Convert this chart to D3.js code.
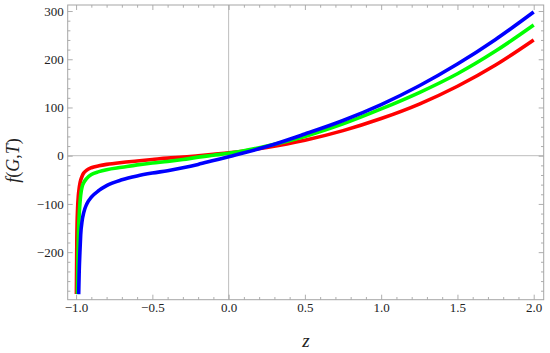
<!DOCTYPE html>
<html>
<head>
<meta charset="utf-8">
<script src="https://cdn.jsdelivr.net/npm/d3@7"></script>
<style>
  html, body { margin: 0; padding: 0; background: #fff; }
  svg { display: block; }
  svg text { font-family: "Liberation Serif", "Times New Roman", serif; }
</style>
</head>
<body>
<svg id="chart" width="550" height="353"></svg>
<script>
// ---- data ----
const redZ   = [-0.998, -0.995, -0.99, -0.985, -0.98, -0.975, -0.97, -0.96, -0.95, -0.93, -0.9, -0.85, -0.8, -0.7, -0.6, -0.5, -0.4, -0.3, -0.2, -0.1, 0, 0.25, 0.5, 0.75, 1, 1.25, 1.5, 1.75, 2];
const redF   = [-287, -170, -108, -82, -68, -58, -51, -42, -36, -30, -25, -21, -18, -14, -11, -8, -5, -3, 0, 3, 6, 17, 32, 52, 77, 107, 144, 188, 240];
const greenZ = [-0.991, -0.988, -0.985, -0.98, -0.975, -0.97, -0.96, -0.95, -0.93, -0.9, -0.85, -0.8, -0.7, -0.6, -0.5, -0.4, -0.3, -0.2, -0.1, 0, 0.25, 0.5, 0.75, 1, 1.25, 1.5, 1.75, 2];
const greenF = [-287, -210, -165, -125, -100, -82, -64, -56, -47, -39, -33, -29, -24, -19, -15, -12, -8, -3, 1, 5, 20, 40, 66, 97, 131, 170, 217, 271];
const blueZ  = [-0.983, -0.98, -0.975, -0.97, -0.96, -0.95, -0.93, -0.9, -0.85, -0.8, -0.7, -0.6, -0.5, -0.4, -0.3, -0.2, -0.1, 0, 0.25, 0.5, 0.75, 1, 1.25, 1.5, 1.75, 2];
const blueF  = [-287, -245, -200, -165, -134, -118, -100, -86, -72, -62, -50, -42, -36, -31, -25, -18, -10, -2, 19, 45, 73, 106, 145, 190, 241, 298];

const xMajor = [-1.0, -0.5, 0.0, 0.5, 1.0, 1.5, 2.0];
const xMinor = [-0.9, -0.8, -0.7, -0.6, -0.4, -0.3, -0.2, -0.1, 0.1, 0.2, 0.3, 0.4, 0.6, 0.7, 0.8, 0.9, 1.1, 1.2, 1.3, 1.4, 1.6, 1.7, 1.8, 1.9];
const yMajor = [-200, -100, 0, 100, 200, 300];
const yMinor = [-280, -260, -240, -220, -180, -160, -140, -120, -80, -60, -40, -20, 20, 40, 60, 80, 120, 140, 160, 180, 220, 240, 260, 280];

const series = [
  { z: redZ,   f: redF,   color: "#ff0000" },
  { z: greenZ, f: greenF, color: "#00ff00" },
  { z: blueZ,  f: blueF,  color: "#0000ff" }
];

// ---- layout ----
const L = 67.7, R = 543.7, T = 5, B = 299.7;
const x = d3.scaleLinear().domain([-1.055, 2.0655]).range([L, R]);
const y = d3.scaleLinear().domain([-298.6, 312.5]).range([B, T]);

const svg = d3.select("#chart");
const fmtX = d => (d < 0 ? "\u2212" : "") + Math.abs(d).toFixed(1);
const fmtY = d => (d < 0 ? "\u2212" : "") + Math.abs(d);
const tickColor = "#999999";
const font = "Liberation Serif, Times New Roman, serif";

// axes lines through origin
svg.append("line").attr("x1", x(0)).attr("x2", x(0)).attr("y1", T).attr("y2", B)
  .attr("stroke", "#bdbdbd").attr("stroke-width", 1);
svg.append("line").attr("x1", L).attr("x2", R).attr("y1", y(0)).attr("y2", y(0))
  .attr("stroke", "#bdbdbd").attr("stroke-width", 1);

// curves
svg.append("clipPath").attr("id", "clip").append("rect")
  .attr("x", L).attr("y", T).attr("width", R - L).attr("height", B - T);
const line = d3.line().x(d => x(d[0])).y(d => y(d[1])).curve(d3.curveMonotoneX);
const g = svg.append("g").attr("clip-path", "url(#clip)");
series.forEach(s => {
  g.append("path")
    .datum(s.z.map((z, i) => [z, s.f[i]]))
    .attr("d", line)
    .attr("fill", "none")
    .attr("stroke", s.color)
    .attr("stroke-width", 3.6)
    .attr("stroke-linejoin", "round");
});

// frame axes with inward ticks
function styleAxis(sel) {
  sel.attr("font-family", font).attr("font-size", 13);
  sel.select(".domain").remove();
  sel.selectAll(".tick line").attr("stroke", tickColor).attr("stroke-width", 0.8);
  sel.selectAll(".tick text").attr("fill", "#222");
}
// bottom
svg.append("g").attr("transform", `translate(0,${B})`)
  .call(d3.axisBottom(x).tickValues(xMajor).tickSize(-5).tickPadding(3).tickFormat(fmtX)).call(styleAxis);
svg.append("g").attr("transform", `translate(0,${B})`)
  .call(d3.axisBottom(x).tickValues(xMinor).tickSize(-2.7).tickFormat("")).call(styleAxis);
// top
svg.append("g").attr("transform", `translate(0,${T})`)
  .call(d3.axisTop(x).tickValues(xMajor).tickSize(-5).tickFormat("")).call(styleAxis);
svg.append("g").attr("transform", `translate(0,${T})`)
  .call(d3.axisTop(x).tickValues(xMinor).tickSize(-2.7).tickFormat("")).call(styleAxis);
// left
svg.append("g").attr("transform", `translate(${L},0)`)
  .call(d3.axisLeft(y).tickValues(yMajor).tickSize(-5).tickPadding(4).tickFormat(fmtY)).call(styleAxis);
svg.append("g").attr("transform", `translate(${L},0)`)
  .call(d3.axisLeft(y).tickValues(yMinor).tickSize(-2.7).tickFormat("")).call(styleAxis);
// right
svg.append("g").attr("transform", `translate(${R},0)`)
  .call(d3.axisRight(y).tickValues(yMajor).tickSize(-5).tickFormat("")).call(styleAxis);
svg.append("g").attr("transform", `translate(${R},0)`)
  .call(d3.axisRight(y).tickValues(yMinor).tickSize(-2.7).tickFormat("")).call(styleAxis);

// frame
svg.append("rect").attr("x", L).attr("y", T).attr("width", R - L).attr("height", B - T)
  .attr("fill", "none").attr("stroke", "#a6a6a6").attr("stroke-width", 1);

// axis labels
svg.append("text").attr("x", 306).attr("y", 347).attr("text-anchor", "middle")
  .attr("font-family", font).attr("font-style", "italic").attr("font-size", 19)
  .attr("fill", "#222").text("z");
const yl = svg.append("text").attr("transform", "translate(19,160.5) rotate(-90)").attr("text-anchor", "middle")
  .attr("font-family", font).attr("font-size", 18).attr("fill", "#222");
yl.append("tspan").attr("font-style", "italic").text("f");
yl.append("tspan").text("(");
yl.append("tspan").attr("font-style", "italic").text("G");
yl.append("tspan").text(",");
yl.append("tspan").attr("font-style", "italic").text("T");
yl.append("tspan").text(")");
</script>
</body>
</html>
